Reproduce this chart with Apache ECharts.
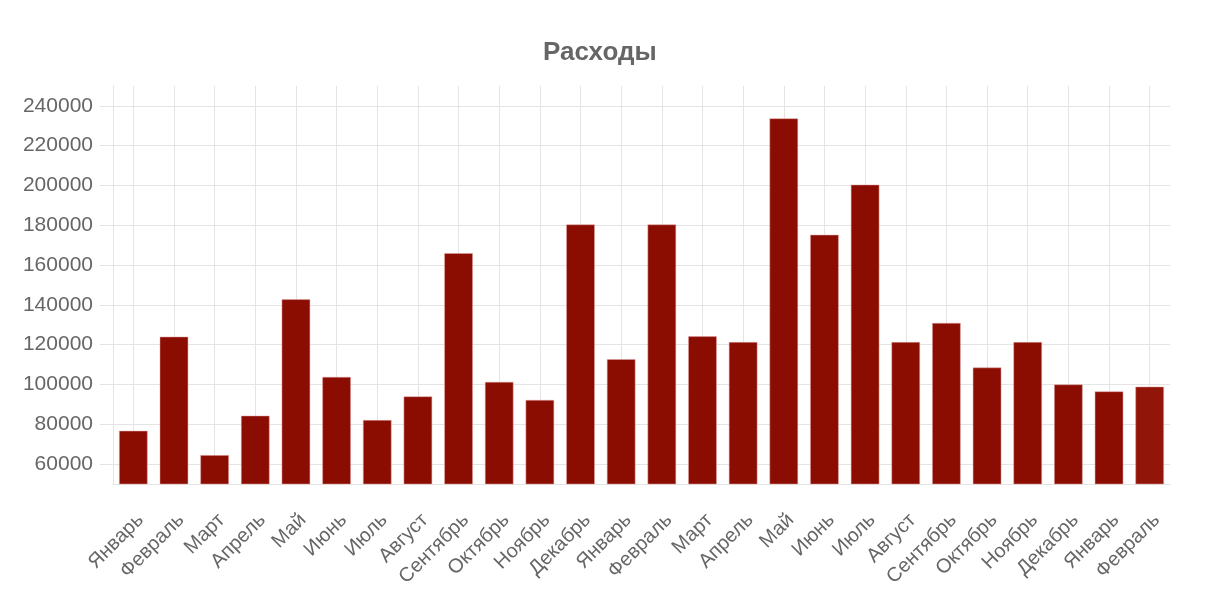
<!DOCTYPE html>
<html>
<head>
<meta charset="utf-8">
<script src="https://cdn.jsdelivr.net/npm/echarts@6/dist/echarts.min.js"></script>
<style>
  html, body { margin: 0; padding: 0; background: #fff; }
  #chart { width: 1205px; height: 612px; }
</style>
</head>
<body>
<div id="chart"></div>
<script>
const months = [
  "Январь", "Февраль", "Март", "Апрель", "Май", "Июнь", "Июль", "Август",
  "Сентябрь", "Октябрь", "Ноябрь", "Декабрь", "Январь", "Февраль", "Март",
  "Апрель", "Май", "Июнь", "Июль", "Август", "Сентябрь", "Октябрь", "Ноябрь",
  "Декабрь", "Январь", "Февраль"
];
const expenses = [
  76700, 124000, 64500, 84300, 142800, 103800, 82100, 94000,
  166000, 101300, 92200, 180400, 112700, 180400, 124200,
  121300, 233700, 175200, 200400, 121300, 130900, 108500, 121300,
  100000, 96500, 98900
];
const yTicks = [60000, 80000, 100000, 120000, 140000, 160000, 180000, 200000, 220000, 240000];

const gridColor = "#e4e4e4";
const textColor = "#666";

const chart = echarts.init(document.getElementById("chart"));
chart.setOption({
  animation: false,
  title: {
    text: "Расходы",
    left: 538,
    top: 35,
    textStyle: { fontFamily: "Liberation Sans", fontSize: 26, fontWeight: "bold", color: textColor }
  },
  grid: { left: 113, right: 35, top: 86, bottom: 128, containLabel: false },
  xAxis: {
    type: "category",
    data: months,
    axisLine: { lineStyle: { color: gridColor } },
    axisTick: { alignWithLabel: true, length: 14, lineStyle: { color: gridColor } },
    splitLine: { show: true, alignWithLabel: true, lineStyle: { color: gridColor } },
    axisLabel: {
      rotate: 45, interval: 0, margin: 26, verticalAlign: "top",
      fontFamily: "Liberation Sans", fontSize: 20, color: textColor
    }
  },
  yAxis: {
    type: "value",
    min: 50000,
    max: 250000,
    interval: 20000,
    axisLine: { show: true, lineStyle: { color: gridColor } },
    axisTick: { show: true, length: 13, customValues: yTicks, lineStyle: { color: gridColor } },
    splitLine: { show: true, lineStyle: { color: gridColor } },
    axisLabel: {
      customValues: yTicks, margin: 20,
      formatter: (v) => String(v),
      fontFamily: "Liberation Sans", fontSize: 21, color: textColor
    }
  },
  series: [{
    type: "bar",
    data: expenses,
    barWidth: "70%",
    itemStyle: {
      color: (p) => p.dataIndex === expenses.length - 1 ? "#92150a" : "#8b0d02",
      borderColor: "#e0a0a0",
      borderWidth: 0.5
    }
  }]
});
</script>
</body>
</html>
